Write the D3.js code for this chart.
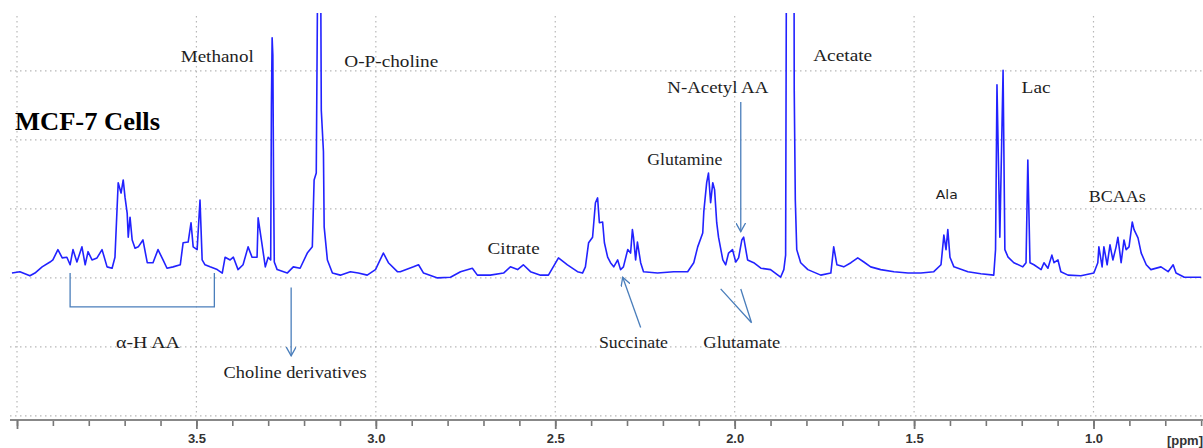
<!DOCTYPE html>
<html>
<head>
<meta charset="utf-8">
<script src="https://cdn.jsdelivr.net/npm/d3@7"></script>
<style>
  html, body { margin: 0; padding: 0; background: #fff; }
  svg { display: block; }
</style>
</head>
<body>
<svg id="chart" width="1203" height="448"></svg>
<script>
// ---------- DATA ----------
const ppm = [4.014,3.992,3.964,3.950,3.930,3.908,3.900,3.886,3.874,3.861,3.852,3.844,3.833,3.819,3.810,3.802,3.791,3.777,3.763,3.749,3.735,3.727,3.718,3.710,3.704,3.699,3.693,3.690,3.685,3.679,3.671,3.662,3.649,3.637,3.621,3.607,3.593,3.582,3.565,3.545,3.537,3.523,3.515,3.509,3.498,3.490,3.484,3.476,3.462,3.442,3.428,3.420,3.406,3.397,3.384,3.370,3.356,3.345,3.331,3.328,3.319,3.308,3.300,3.293,3.291,3.289,3.287,3.285,3.283,3.275,3.247,3.230,3.211,3.191,3.177,3.172,3.166,3.160,3.155,3.152,3.146,3.144,3.135,3.121,3.099,3.071,3.049,3.024,3.001,2.979,2.965,2.940,2.932,2.895,2.881,2.867,2.828,2.792,2.764,2.731,2.717,2.681,2.644,2.625,2.605,2.589,2.569,2.541,2.519,2.491,2.466,2.438,2.424,2.416,2.407,2.396,2.388,2.382,2.377,2.368,2.363,2.354,2.346,2.337,2.326,2.318,2.310,2.298,2.290,2.285,2.282,2.276,2.271,2.262,2.254,2.215,2.170,2.131,2.114,2.103,2.089,2.086,2.078,2.073,2.067,2.061,2.056,2.050,2.045,2.033,2.025,2.017,2.006,1.997,1.989,1.980,1.975,1.964,1.947,1.927,1.900,1.872,1.863,1.858,1.855,1.835,1.834,1.831,1.827,1.816,1.796,1.760,1.732,1.724,1.715,1.696,1.676,1.657,1.640,1.621,1.593,1.556,1.517,1.481,1.445,1.425,1.417,1.411,1.406,1.400,1.389,1.350,1.314,1.278,1.273,1.269,1.261,1.252,1.247,1.238,1.222,1.197,1.188,1.183,1.177,1.166,1.146,1.138,1.127,1.116,1.110,1.099,1.091,1.071,1.035,0.999,0.988,0.985,0.976,0.971,0.962,0.954,0.946,0.937,0.932,0.923,0.915,0.909,0.901,0.892,0.887,0.876,0.867,0.853,0.840,0.812,0.792,0.778,0.770,0.747,0.700];
const intensity = [0.7,0.9,0.3,0.7,1.6,2.3,2.6,4.1,2.9,3.0,1.9,4.1,2.3,4.5,1.9,3.8,2.6,2.9,4.1,1.6,1.4,3.0,13.8,12.3,14.2,11.7,9.4,5.9,8.8,5.5,4.3,4.5,5.5,2.2,2.2,4.1,2.6,1.4,1.6,1.9,5.1,5.2,8.0,4.5,4.1,11.3,2.6,1.9,1.6,1.2,0.7,3.0,2.6,3.0,1.2,1.9,4.5,3.0,3.0,8.7,5.5,1.6,3.0,2.6,25.1,34.8,32.3,13.5,2.3,1.2,0.7,1.6,1.4,3.6,4.5,14.2,15.2,60,60,24.3,18.3,7.4,2.6,0.7,0.4,0.9,0.7,0.4,1.2,3.6,2.2,0.9,0.9,1.6,1.9,0.7,0.0,0.1,0.9,1.4,0.4,0.4,0.7,1.6,1.2,1.9,0.9,0.4,0.4,2.9,1.9,0.9,0.7,1.6,5.1,5.9,10.9,11.6,8.0,8.1,5.1,3.0,2.2,1.6,2.6,1.2,1.6,4.1,3.6,7.0,5.9,2.6,5.2,2.2,0.9,0.7,0.9,0.9,2.2,4.5,6.5,9.6,13.8,15.2,10.9,13.8,12.8,8.0,5.9,2.6,1.9,3.6,4.1,2.3,2.9,5.5,5.9,2.6,2.2,1.4,1.2,0.1,1.2,3.3,60,60,27.2,11.3,4.1,2.2,1.2,0.4,0.7,4.5,1.9,1.6,2.2,2.9,2.3,1.6,1.2,0.9,0.7,0.7,0.9,1.9,6.2,4.1,7.0,3.0,1.6,0.9,0.6,0.4,4.1,28.0,5.9,30.1,4.1,3.0,2.2,1.6,2.2,17.1,2.2,1.9,1.2,2.2,1.4,3.3,2.2,2.6,0.9,0.4,0.3,0.7,2.2,4.5,1.6,4.5,1.9,4.8,2.6,4.5,5.9,2.2,5.5,4.1,4.5,8.1,7.0,5.8,3.6,1.9,1.2,1.6,0.9,1.9,0.7,0.1,0.1];

const majorTicks = [4.0, 3.5, 3.0, 2.5, 2.0, 1.5, 1.0];
const tickLabels = ["", "3.5", "3.0", "2.5", "2.0", "1.5", "1.0"];
const minorTicks = [4.0,3.9,3.8,3.7,3.6,3.5,3.4,3.3,3.2,3.1,3.0,2.9,2.8,2.7,2.6,2.5,2.4,2.3,2.2,2.1,2.0,1.9,1.8,1.7,1.6,1.5,1.4,1.3,1.2,1.1,1.0,0.9,0.8,0.7];
const gridLevels = [-20, -10, 0, 10, 20, 30];

// annotation labels: text, ppm position, intensity position (baseline)
const labelText = ["Methanol","O-P-choline","Acetate","N-Acetyl AA","Glutamine","Citrate","Ala","BCAAs","Lac","\u03b1-H AA","Choline derivatives","Succinate","Glutamate"];
const labelPpm  = [3.442, 2.957, 1.699, 2.047, 2.139, 2.616, 1.409, 0.934, 1.160, 3.635, 3.225, 2.282, 1.980];
const labelInt  = [31.3, 30.6, 31.4, 26.8, 16.4, 3.5, 11.4, 11.0, 26.8, -10.1, -14.5, -10.1, -10.1];

// ---------- LAYOUT ----------
const svg = d3.select("#chart");
const W = 1203, H = 448;
const x = d3.scaleLinear().domain([4.0, 1.0]).range([17, 1093.5]);
const y = d3.scaleLinear().domain([-20.6, 38.4]).range([420, 13]);

const gridColor = "#b8b8b8";
const arrowColor = "#4a7ebb";
const serif = "'Liberation Serif', 'DejaVu Serif', serif";
const labelWidths = [73, 94, 59, 101, 75, 52, 22, 57, 29, 64, 143, 69, 77];

// defs
const defs = svg.append("defs");
defs.append("clipPath").attr("id", "plotclip")
  .append("rect").attr("x", 0).attr("y", y(38.4)).attr("width", W).attr("height", y(-20.6) - y(38.4));
defs.append("marker").attr("id", "ah")
  .attr("viewBox", "0 0 10 10").attr("refX", 9).attr("refY", 5)
  .attr("markerWidth", 10).attr("markerHeight", 10)
  .attr("markerUnits", "userSpaceOnUse").attr("orient", "auto")
  .append("path").attr("d", "M0,0 L9,5 L0,10")
  .attr("fill", "none").attr("stroke", arrowColor).attr("stroke-width", 1.3);

// gridlines
svg.append("g").selectAll("line.h").data(gridLevels).join("line")
  .attr("x1", 10).attr("x2", W)
  .attr("y1", d => y(d)).attr("y2", d => y(d))
  .attr("stroke", gridColor).attr("stroke-width", 1.2).attr("stroke-dasharray", "1.5,3.5");
svg.append("g").selectAll("line.v").data(majorTicks).join("line")
  .attr("x1", d => x(d)).attr("x2", d => x(d))
  .attr("y1", 16).attr("y2", y(-20))
  .attr("stroke", gridColor).attr("stroke-width", 1.2).attr("stroke-dasharray", "1.5,3.5");

// spectrum
const line = d3.line().x((d, i) => x(ppm[i])).y((d, i) => y(intensity[i]));
svg.append("path").datum(intensity)
  .attr("clip-path", "url(#plotclip)")
  .attr("d", line)
  .attr("fill", "none").attr("stroke", "#2222ff").attr("stroke-width", 1.6)
  .attr("stroke-linejoin", "round");

// x axis
const axisY = y(-20.6);
const minorAxis = d3.axisBottom(x).tickValues(minorTicks).tickSize(6).tickFormat("");
const majorAxis = d3.axisBottom(x).tickValues(majorTicks).tickSize(9).tickPadding(5)
  .tickFormat((d, i) => tickLabels[i]);
const gMinor = svg.append("g").attr("transform", `translate(0,${axisY})`).call(minorAxis);
gMinor.select(".domain").remove();
gMinor.selectAll("line").attr("stroke", "#777").attr("stroke-width", 1.6);
const gMajor = svg.append("g").attr("transform", `translate(0,${axisY})`).call(majorAxis);
gMajor.select(".domain").attr("d", `M10,0H${W}`).attr("stroke", "#888").attr("stroke-width", 2);
gMajor.selectAll("line").attr("stroke", "#777").attr("stroke-width", 1.8);
gMajor.selectAll("text")
  .attr("font-family", "'Liberation Sans', Arial, sans-serif")
  .attr("font-weight", "bold").attr("font-size", 13).attr("fill", "#333");
svg.append("text").attr("x", 1203).attr("y", axisY + 25).attr("text-anchor", "end")
  .attr("font-family", "'Liberation Sans', Arial, sans-serif")
  .attr("font-weight", "bold").attr("font-size", 13).attr("fill", "#333").text("[ppm]");

// annotation lines / arrows
const ann = svg.append("g").attr("stroke", arrowColor).attr("stroke-width", 1.3).attr("fill", "none");
// alpha-H AA bracket
ann.append("path").attr("d", d3.line()([
  [x(3.852), y(0.7)], [x(3.852), y(-4.2)], [x(3.450), y(-4.2)], [x(3.450), y(0.7)]
]));
// choline derivatives arrow
ann.append("line").attr("x1", x(3.236)).attr("y1", y(-1.4)).attr("x2", x(3.236)).attr("y2", y(-11.3)).attr("marker-end", "url(#ah)");
// N-acetyl AA arrow
ann.append("line").attr("x1", x(1.983)).attr("y1", y(25.5)).attr("x2", x(1.983)).attr("y2", y(6.7)).attr("marker-end", "url(#ah)");
// succinate arrow
ann.append("line").attr("x1", x(2.262)).attr("y1", y(-7.2)).attr("x2", x(2.312)).attr("y2", y(0.1)).attr("marker-end", "url(#ah)");
// glutamate lines
ann.append("path").attr("d", d3.line()([[x(2.039), y(-1.6)], [x(1.953), y(-6.5)], [x(1.983), y(-1.6)]]));

// labels
svg.append("g").selectAll("text").data(labelText).join("text")
  .attr("x", (d, i) => x(labelPpm[i]))
  .attr("y", (d, i) => y(labelInt[i]))
  .attr("text-anchor", "middle")
  .attr("font-family", (d) => d === "Ala" ? "'DejaVu Sans', sans-serif" : serif)
  .attr("font-size", (d) => d === "Ala" ? 13 : 16)
  .attr("fill", "#1e1e1e")
  .attr("textLength", (d, i) => labelWidths[i])
  .attr("lengthAdjust", "spacingAndGlyphs")
  .text(d => d);

// title
svg.append("text").attr("x", 15).attr("y", y(21.4))
  .attr("font-family", serif).attr("font-weight", "bold").attr("font-size", 25)
  .attr("fill", "#000").attr("textLength", 145).attr("lengthAdjust", "spacingAndGlyphs")
  .text("MCF-7 Cells");
</script>
</body>
</html>
